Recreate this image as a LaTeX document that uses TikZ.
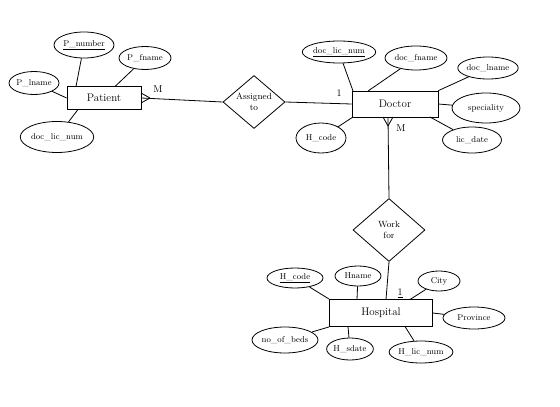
\documentclass[tikz,border=0pt]{standalone}
\usetikzlibrary{shapes.geometric}
\begin{document}
\begin{tikzpicture}[x=1pt,y=-1pt,line width=0.8pt,
  ent/.style={draw,rectangle,inner sep=0pt,font=\fontsize{11}{13}\selectfont},
  attr/.style={draw,ellipse,inner sep=0pt,font=\fontsize{8.5}{10}\selectfont},
  rel/.style={draw,diamond,inner sep=0pt,align=center,font=\fontsize{9}{10.5}\selectfont},
  lbl/.style={font=\fontsize{10}{11}\selectfont,inner sep=0pt}]
\useasboundingbox (0,0) rectangle (560,407);
% Patient
\node[ent,minimum width=74pt,minimum height=23pt] (pat) at (104,98) {Patient};
\node[attr,minimum width=60pt,minimum height=26pt] (pnum) at (84,45) {\underline{P\_number}};
\node[attr,minimum width=52pt,minimum height=23pt] (pfn) at (145,58) {P\_fname};
\node[attr,minimum width=46pt,minimum height=23pt] (pln) at (34,83) {P\_lname};
\node[attr,minimum width=62pt,minimum height=31pt] (pdl) at (57,137) {doc\_lic\_num};
\draw (pnum) -- (76,86.5);
\draw (pfn) -- (115,86.5);
\draw (pln) -- (pat.west);
\draw (pdl) -- (78,109.5);
% Assigned to
\node[rel,minimum width=62pt,minimum height=53pt] (asg) at (254,102) {Assigned\\to};
\coordinate (pcf) at (150,98);
\draw (pat.east) -- (asg.west);
\draw (pcf) -- (141,93) (pcf) -- (141,103);
\node[lbl] (pm) at (158,89) {M};
% Doctor
\node[ent,minimum width=86pt,minimum height=26pt] (doc) at (395,104) {Doctor};
\draw (asg.east) -- (doc.west);
\node[lbl] (d1) at (339,93) {1};
\node[attr,minimum width=68pt,minimum height=22pt] (ddl) at (339,52) {\underline{doc\_lic\_num}};
\node[attr,minimum width=62pt,minimum height=24pt] (dfn) at (416,58) {doc\_fname};
\node[attr,minimum width=60pt,minimum height=22pt] (dln) at (488,68) {doc\_lname};
\node[attr,minimum width=68pt,minimum height=30pt] (spc) at (486,108) {speciality};
\node[attr,minimum width=59pt,minimum height=26pt] (ldt) at (472,140) {lic\_date};
\node[attr,minimum width=50pt,minimum height=30pt] (dhc) at (321,138) {H\_code};
\draw (ddl) -- (353,91);
\draw (dfn) -- (368,91);
\draw (dln) -- (doc.north east);
\draw (spc) -- (doc.east);
\draw (ldt) -- (430,117);
\draw (dhc) -- (353,117);
% Work for
\node[rel,minimum width=72pt,minimum height=63pt] (wf) at (389,230) {Work\\for};
\coordinate (dcf) at (388,126);
\draw (388,117) -- (wf.north);
\draw (dcf) -- (383,117) (dcf) -- (393,117);
\node[lbl] (dm) at (401,128) {M};
% Hospital
\node[ent,minimum width=103pt,minimum height=27pt] (hos) at (381,313) {Hospital};
\draw (wf.south) -- (386,299.5);
\node[lbl] (h1) at (400,293) {\underline{1}};
\node[attr,minimum width=56pt,minimum height=20pt] (hhc) at (295,278) {\underline{H\_code}};
\node[attr,minimum width=46pt,minimum height=20pt] (hnm) at (358,276) {Hname};
\node[attr,minimum width=42pt,minimum height=20pt] (cty) at (439,281) {City};
\node[attr,minimum width=62pt,minimum height=22pt] (prv) at (474,318) {Province};
\node[attr,minimum width=60pt,minimum height=26pt] (nob) at (285,340) {no\_of\_beds};
\node[attr,minimum width=46pt,minimum height=22pt] (hsd) at (350,349) {H\_sdate};
\node[attr,minimum width=63pt,minimum height=22pt] (hln) at (421,352) {H\_lic\_num};
\draw (hhc) -- (hos.north west);
\draw (hnm) -- (357,299.5);
\draw (cty) -- (410,299.5);
\draw (prv) -- (hos.east);
\draw (nob) -- (hos.south west);
\draw (hsd) -- (348,326.5);
\draw (hln) -- (405,326.5);
\end{tikzpicture}
\end{document}
